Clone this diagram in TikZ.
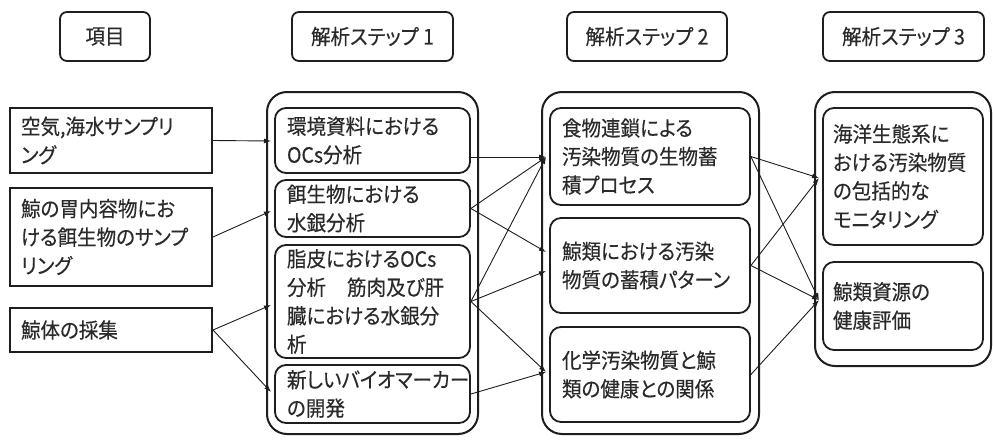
\documentclass[tikz,border=0pt]{standalone}
\usepackage{fontspec}
\setmainfont{Noto Sans CJK JP}[Script=CJK, RawFeature=+palt, FakeStretch=0.93, FakeBold=0.3]
\usetikzlibrary{arrows.meta,calc}
\definecolor{ink}{HTML}{1E1E1E}
\definecolor{txt}{HTML}{2A2A2A}
\tikzset{
  every node/.style={text=txt, font=\fontsize{21}{28.5}\selectfont},
  hdr/.style={draw=ink, rounded corners=7pt, line width=1.8pt, minimum height=49pt, inner sep=0pt},
  lbox/.style={draw=ink, line width=2pt, align=left, inner xsep=11pt, inner ysep=0pt, text width=180pt},
  ibox/.style={draw=ink, rounded corners=11pt, line width=1.8pt, align=left, inner ysep=0pt},
  cont/.style={draw=ink, rounded corners=20pt, line width=2pt, inner sep=0pt},
  conn/.style={draw=ink, line width=0.9pt, -{Latex[length=7pt,width=5pt]}}
}
\begin{document}
\begin{tikzpicture}[x=1pt,y=-1pt]
\useasboundingbox[fill=white] (0,0) rectangle (993,439);

% headers
\node[hdr, minimum width=90pt]  (h0) at (105,36.5)   {項目};
\node[hdr, minimum width=161pt] (h1) at (372.5,36.5) {解析ステップ 1};
\node[hdr, minimum width=160pt] (h2) at (647,36.5)   {解析ステップ 2};
\node[hdr, minimum width=161pt] (h3) at (903.5,36.5) {解析ステップ 3};

% containers
\node[cont, minimum width=211pt, minimum height=342pt] (c1) at (372.5,263) {};
\node[cont, minimum width=217pt, minimum height=342pt] (c2) at (650.5,263) {};
\node[cont, minimum width=176pt, minimum height=274pt] (c3) at (903,229) {};

% left items
\node[lbox, minimum height=65pt] (l1) at (111,140.5) {空気,海水サンプリ\\ング};
\node[lbox, minimum height=98pt] (l2) at (111,237) {鯨の胃内容物にお\\ける餌生物のサンプ\\リング};
\node[lbox, minimum height=44pt] (l3) at (111,330) {鯨体の採集};

% step 1
\tikzset{s1/.style={ibox, inner xsep=12pt, text width=171pt, minimum width=195pt}}
\node[s1, minimum height=65pt]  (s1a) at (372.5,140.5) {環境資料における\\OCs分析};
\node[s1, minimum height=57pt]  (s1b) at (372.5,208.5) {餌生物における\\水銀分析};
\node[s1, minimum height=113pt] (s1c) at (372.5,301.5) {脂皮におけるOCs\\分析\quad 筋肉及び肝\\臓における水銀分\\析};
\node[s1, minimum height=58pt]  (s1d) at (372.5,394)   {新しいバイオマーカー\\の開発};

% step 2
\tikzset{s2/.style={ibox, inner xsep=12pt, text width=176pt, minimum width=200pt}}
\node[s2, minimum height=97pt] (s2a) at (650,156.5) {食物連鎖による\\汚染物質の生物蓄\\積プロセス};
\node[s2, minimum height=95pt] (s2b) at (650,265.5) {鯨類における汚染\\物質の蓄積パターン};
\node[s2, minimum height=95pt] (s2c) at (650,374.5) {化学汚染物質と鯨\\類の健康との関係};

% step 3
\tikzset{s3/.style={ibox, inner xsep=10pt, text width=140pt, minimum width=160pt}}
\node[s3, minimum height=137pt] (s3a) at (903,176.5) {海洋生態系に\\おける汚染物質\\の包括的な\\モニタリング};
\node[s3, minimum height=88pt]  (s3b) at (903,306)   {鯨類資源の\\健康評価};

% arrow ends on the container edges
\coordinate (t1a) at (271,141);
\coordinate (t1b) at (271,211);
\coordinate (t1c) at (271,305);
\coordinate (t1d) at (271,392);
\coordinate (t2a) at (546,157);
\coordinate (t2b1) at (546,252);
\coordinate (t2b2) at (546,271);
\coordinate (t2c) at (546,372);
\coordinate (t3a) at (819,178);
\coordinate (t3b) at (819,300);

% connectors
\draw[conn] (l1.east) -- (t1a);
\draw[conn] (l2.east) -- (t1b);
\draw[conn] (l3.east) -- (t1c);
\draw[conn] (l3.east) -- (t1d);

\draw[conn] (s1a.east |- t2a) -- (t2a);
\draw[conn] (s1b.east) -- (t2a);
\draw[conn] (s1b.east) -- (t2b1);
\draw[conn] (s1c.east) -- (t2a);
\draw[conn] (s1c.east) -- (t2b2);
\draw[conn] (s1c.east) -- (t2c);
\draw[conn] (s1d.east) -- (t2c);

\draw[conn] (s2a.east) -- (t3a);
\draw[conn] (s2a.east) -- (t3b);
\draw[conn] (s2b.east) -- (t3a);
\draw[conn] (s2b.east) -- (t3b);
\draw[conn] (s2c.east) -- (t3b);
\end{tikzpicture}
\end{document}
